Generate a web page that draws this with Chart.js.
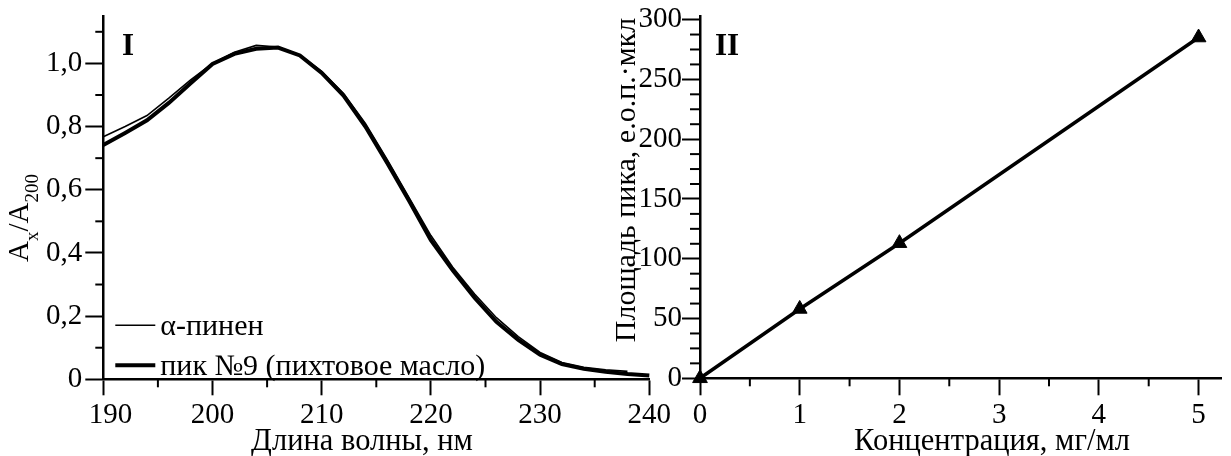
<!DOCTYPE html>
<html>
<head>
<meta charset="utf-8">
<script src="https://cdn.jsdelivr.net/npm/chart.js@4"></script>
<style>
  html, body { margin: 0; padding: 0; background: #fff; }
  #wrap { position: relative; width: 1231px; height: 456px; overflow: hidden; }
  canvas { position: absolute; top: 0; }
  #chartI { left: 0; }
  #chartII { left: 600px; }
</style>
</head>
<body>
<div id="wrap">
  <canvas id="chartI" width="680" height="456"></canvas>
  <canvas id="chartII" width="631" height="456"></canvas>
</div>
<script>
// panel I: UV spectra, normalised to A200
const wavelengths = [190, 192, 194, 196, 198, 200, 202, 204, 206, 208, 210, 212, 214,
  216, 218, 220, 222, 224, 226, 228, 230, 232, 234, 236, 238, 240];
const alphaPinene = [0.768, 0.80, 0.835, 0.89, 0.948, 1.0, 1.035, 1.057, 1.052, 1.027, 0.975, 0.905, 0.81,
  0.695, 0.575, 0.455, 0.355, 0.27, 0.195, 0.135, 0.085, 0.053, 0.038, 0.030, 0.025];
const peak9 = [0.742, 0.78, 0.82, 0.875, 0.937, 0.998, 1.03, 1.046, 1.05, 1.025, 0.97, 0.898, 0.80,
  0.685, 0.565, 0.44, 0.345, 0.258, 0.182, 0.125, 0.078, 0.048, 0.033, 0.024, 0.017, 0.012];

// panel II: calibration
const concentrations = [0, 1, 2, 5];
const peakAreas = [0, 58, 113, 285];

// ticks
const leftXTicks = [190, 200, 210, 220, 230, 240];
const leftXMinor = [195, 205, 215, 225, 235];
const leftYTicks = [0, 0.2, 0.4, 0.6, 0.8, 1.0];
const leftYMinor = [0.1, 0.3, 0.5, 0.7, 0.9, 1.1];
const rightXTicks = [0, 1, 2, 3, 4, 5];
const rightXMinor = [0.5, 1.5, 2.5, 3.5, 4.5];
const rightYTicks = [0, 50, 100, 150, 200, 250, 300];
const rightYMinor = rightYTicks.slice(0, -1).flatMap(v => [v + 12.5, v + 25, v + 37.5]);

const SERIF = '"Liberation Serif", "Times New Roman", serif';
Chart.defaults.font.family = SERIF;
Chart.defaults.font.size = 29;
Chart.defaults.color = '#000';

// short minor tick marks, drawn through the chart's own scales
const minorTicks = {
  id: 'minorTicks',
  afterDraw(chart, args, opts) {
    const ctx = chart.ctx;
    ctx.save();
    ctx.strokeStyle = '#000';
    ctx.lineWidth = 2;
    opts.list.forEach(([id, values, len]) => {
      const s = chart.scales[id];
      values.forEach(v => {
        const p = s.getPixelForValue(v);
        ctx.beginPath();
        if (s.isHorizontal()) {
          ctx.moveTo(p, s.top);
          ctx.lineTo(p, s.top + len);
        } else {
          ctx.moveTo(s.right, p);
          ctx.lineTo(s.right - len, p);
        }
        ctx.stroke();
      });
    });
    ctx.restore();
  }
};

// axis titles with subscripts, panel letters
function drawRich(ctx, it) {
  ctx.save();
  ctx.translate(it.x, it.y);
  if (it.rotate) ctx.rotate(it.rotate);
  ctx.fillStyle = '#000';
  ctx.textBaseline = 'alphabetic';
  const parts = it.parts.map(p => {
    const sub = p[1] === 'sub';
    const font = (it.weight || 'normal') + ' ' + (sub ? Math.round(it.size * 0.65) : it.size) + 'px ' + SERIF;
    ctx.font = font;
    return { text: p[0], font, sub, w: ctx.measureText(p[0]).width };
  });
  const total = parts.reduce((a, p) => a + p.w, 0);
  let x = it.align === 'left' ? 0 : -total / 2;
  parts.forEach(p => {
    ctx.font = p.font;
    ctx.fillText(p.text, x, p.sub ? it.size * 0.33 : 0);
    x += p.w;
  });
  ctx.restore();
}

const extraText = {
  id: 'extraText',
  afterDraw(chart, args, opts) {
    opts.items.forEach(it => drawRich(chart.ctx, it));
  }
};

// legend sitting inside the plot, bottom-left
const insideLegend = {
  id: 'insideLegend',
  afterDraw(chart, args, opts) {
    if (!opts.show) return;
    const ctx = chart.ctx;
    const a = chart.chartArea;
    const n = chart.data.datasets.length;
    ctx.save();
    ctx.font = opts.size + 'px ' + SERIF;
    ctx.textBaseline = 'middle';
    ctx.fillStyle = '#000';
    chart.data.datasets.forEach((ds, i) => {
      const y = a.bottom - opts.bottom - (n - 1 - i) * opts.rowHeight;
      const x0 = a.left + opts.left;
      ctx.strokeStyle = ds.borderColor;
      ctx.lineWidth = ds.borderWidth;
      ctx.beginPath();
      ctx.moveTo(x0, y);
      ctx.lineTo(x0 + opts.lineLength, y);
      ctx.stroke();
      ctx.fillText(ds.label, x0 + opts.lineLength + opts.gap, y + 2);
    });
    ctx.restore();
  }
};

function axisOpts(tickLen, extra) {
  return Object.assign({
    type: 'linear',
    grid: { display: true, drawOnChartArea: false, drawTicks: true, tickLength: tickLen, tickWidth: 2, tickColor: '#000' },
    border: { display: true, width: 2.5, color: '#000' }
  }, extra);
}

const commaFmt = v => v === 0 ? '0' : v.toFixed(1).replace('.', ',');

new Chart(document.getElementById('chartI'), {
  type: 'line',
  data: {
    datasets: [
      {
        label: 'α-пинен',
        data: alphaPinene.map((y, i) => ({ x: wavelengths[i], y })),
        borderColor: '#000', borderWidth: 1.6, pointRadius: 0, tension: 0, clip: false
      },
      {
        label: 'пик №9 (пихтовое масло)',
        data: peak9.map((y, i) => ({ x: wavelengths[i], y })),
        borderColor: '#000', borderWidth: 4, pointRadius: 0, tension: 0, clip: false
      }
    ]
  },
  options: {
    animation: false,
    responsive: false,
    devicePixelRatio: 1,
    layout: { padding: { top: 16, right: 30.7, left: 0, bottom: 0 } },
    plugins: {
      legend: { display: false },
      tooltip: { enabled: false },
      minorTicks: { list: [['x', leftXMinor, 8], ['y', leftYMinor, 8]] },
      insideLegend: { show: true, size: 30, left: 12, lineLength: 40, gap: 5, bottom: 14, rowHeight: 40 },
      extraText: {
        items: [
          { parts: [['I']], x: 122, y: 55, size: 31, weight: 'bold', align: 'left' },
          { parts: [['Длина волны, нм']], x: 362, y: 450, size: 30.5 },
          { parts: [['A'], ['x', 'sub'], ['/A'], ['200', 'sub']], x: 28, y: 218, size: 29, rotate: -Math.PI / 2 }
        ]
      }
    },
    scales: {
      x: axisOpts(16, {
        min: 190, max: 240,
        afterBuildTicks: s => { s.ticks = leftXTicks.map(v => ({ value: v })); },
        afterFit: s => { s.height = 456 - 379.3; s.paddingLeft = 0; s.paddingRight = 0; },
        // first label is pushed a little right of its tick, clear of the y labels
        ticks: { padding: 3, autoSkip: false, maxRotation: 0, callback: (v, i) => (i === 0 ? '\u2002' : '') + v }
      }),
      y: axisOpts(18, {
        min: 0, max: 1.15,
        afterBuildTicks: s => { s.ticks = leftYTicks.map(v => ({ value: v })); },
        afterFit: s => { s.width = 103.3; s.paddingTop = 0; s.paddingBottom = 0; },
        ticks: { padding: 3, autoSkip: false, callback: commaFmt }
      })
    }
  },
  plugins: [minorTicks, insideLegend, extraText]
});

new Chart(document.getElementById('chartII'), {
  type: 'line',
  data: {
    datasets: [{
      label: 'Площадь пика',
      data: peakAreas.map((y, i) => ({ x: concentrations[i], y })),
      borderColor: '#000', borderWidth: 3.5, tension: 0, clip: false,
      pointStyle: 'triangle', pointRadius: 8.5, pointBackgroundColor: '#000', pointBorderColor: '#000', pointBorderWidth: 1
    }]
  },
  options: {
    animation: false,
    responsive: false,
    devicePixelRatio: 1,
    layout: { padding: { top: 16, right: 0, left: 0, bottom: 0 } },
    plugins: {
      legend: { display: false },
      tooltip: { enabled: false },
      minorTicks: { list: [['x', rightXMinor, 8], ['y', rightYMinor, 10]] },
      insideLegend: { show: false },
      extraText: {
        items: [
          { parts: [['II']], x: 115, y: 55, size: 31, weight: 'bold', align: 'left' },
          { parts: [['Концентрация, мг/мл']], x: 392, y: 450, size: 30.5 },
          { parts: [['Площадь пика, е.о.п.·мкл']], x: 35, y: 180, size: 30, rotate: -Math.PI / 2 }
        ]
      }
    },
    scales: {
      x: axisOpts(17, {
        min: 0, max: 5.23,
        afterBuildTicks: s => { s.ticks = rightXTicks.map(v => ({ value: v })); },
        afterFit: s => { s.height = 456 - 378.3; s.paddingLeft = 0; s.paddingRight = 0; },
        ticks: { padding: 3, autoSkip: false, maxRotation: 0 }
      }),
      y: axisOpts(18, {
        min: 0, max: 303,
        afterBuildTicks: s => { s.ticks = rightYTicks.map(v => ({ value: v })); },
        afterFit: s => { s.width = 100; s.paddingTop = 0; s.paddingBottom = 0; },
        ticks: { padding: 0, autoSkip: false }
      })
    }
  },
  plugins: [minorTicks, extraText]
});
</script>
</body>
</html>
